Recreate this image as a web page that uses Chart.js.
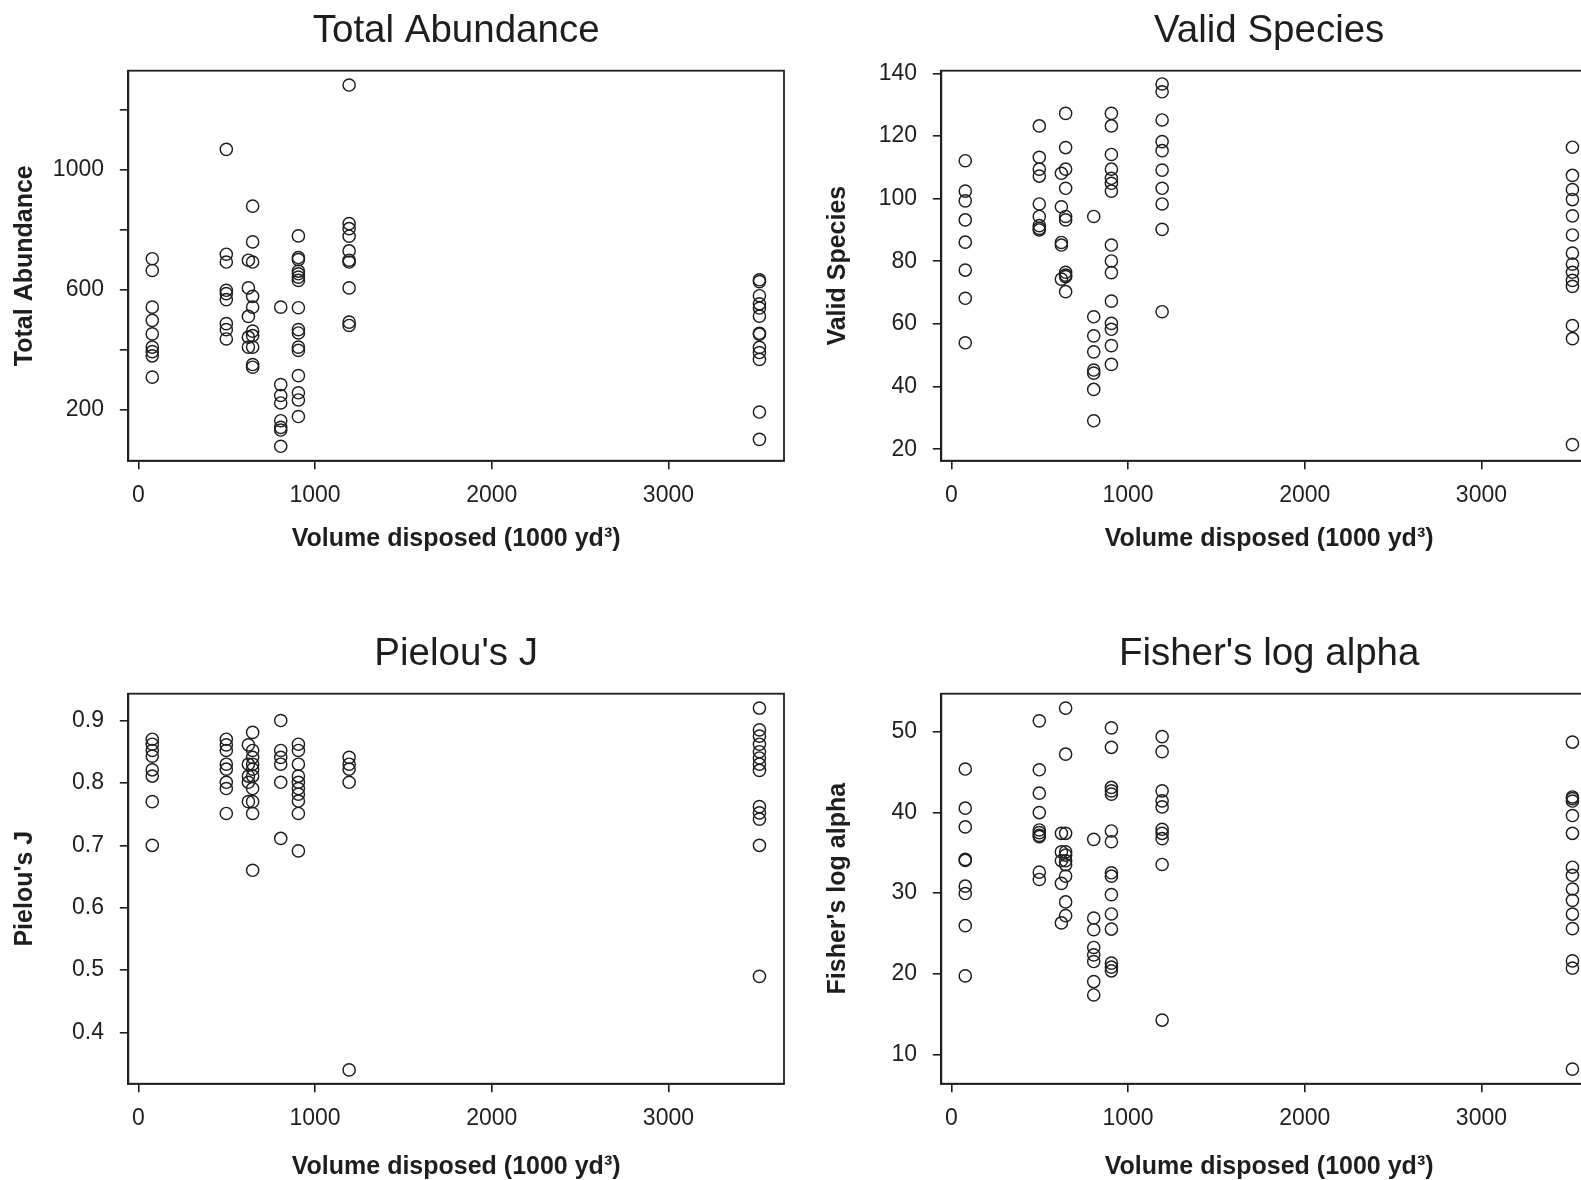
<!DOCTYPE html>
<html>
<head>
<meta charset="utf-8">
<script src="https://cdn.jsdelivr.net/npm/chart.js@4.4.1/dist/chart.umd.min.js"></script>
<style>
  html, body { margin: 0; padding: 0; background: #fff; overflow: hidden; width: 1581px; height: 1180px; position: relative; }
  .panel { position: absolute; width: 813px; height: 623px; }
</style>
</head>
<body>
<div class="panel" style="left:0;top:0"><canvas id="c1" width="813" height="623"></canvas></div>
<div class="panel" style="left:813px;top:0"><canvas id="c2" width="813" height="623"></canvas></div>
<div class="panel" style="left:0;top:623px"><canvas id="c3" width="813" height="623"></canvas></div>
<div class="panel" style="left:813px;top:623px"><canvas id="c4" width="813" height="623"></canvas></div>
<script>
// volume disposed at each station group (1000 yd3)
var siteVolume = [79, 498, 623, 647, 806, 906, 1193, 3515];
var volumeTicks = [0, 1000, 2000, 3000];

// one inner list per station group, same order as siteVolume
var totalAbundance = [
    [703, 664, 542, 498, 453, 409, 394, 380, 309],
    [1067, 718, 692, 598, 587, 567, 487, 467, 436],
    [698, 606, 511, 442, 409],
    [878, 759, 692, 578, 542, 462, 447, 409, 351, 342],
    [542, 284, 248, 223, 164, 142, 133, 79],
    [779, 707, 700, 662, 653, 642, 631, 540, 467, 456, 409, 398, 314, 257, 233, 178],
    [1281, 820, 803, 778, 729, 698, 692, 606, 492, 481],
    [633, 627, 580, 553, 539, 512, 455, 452, 408, 391, 368, 193, 102]
];
var abundanceTicks = [200, 400, 600, 800, 1000, 1200];
var abundanceLabels = ['200', '', '600', '', '1000', ''];

var validSpecies = [
    [112.1, 102.4, 99.3, 93.2, 86.1, 77.2, 68.2, 54.0],
    [123.2, 113.2, 109.4, 107.2, 98.3, 94.3, 91.4, 90.5, 90.0],
    [108.1, 97.4, 86.0, 85.2, 74.3],
    [127.2, 116.3, 109.4, 103.3, 94.3, 93.2, 76.5, 75.6, 75.1, 70.3],
    [94.3, 62.3, 56.2, 51.1, 45.3, 44.3, 39.1, 29.1],
    [127.2, 123.2, 114.1, 109.4, 106.5, 104.9, 102.4, 85.2, 80.1, 76.4, 67.3, 60.2, 58.3, 53.1, 47.1],
    [136.6, 134.1, 125.1, 118.2, 115.3, 109.1, 103.3, 98.3, 90.2, 63.9],
    [116.4, 107.4, 102.9, 99.7, 94.5, 88.4, 82.6, 79.1, 76.5, 73.9, 72.0, 59.5, 55.3, 21.5]
];
var speciesTicks = [20, 40, 60, 80, 100, 120, 140];
var speciesLabels = ['20', '40', '60', '80', '100', '120', '140'];

var pielouJ = [
    [0.870, 0.862, 0.852, 0.843, 0.821, 0.811, 0.770, 0.700],
    [0.870, 0.861, 0.852, 0.830, 0.822, 0.801, 0.791, 0.751],
    [0.861, 0.830, 0.811, 0.801, 0.770],
    [0.881, 0.852, 0.841, 0.830, 0.822, 0.811, 0.791, 0.770, 0.751, 0.660],
    [0.900, 0.852, 0.841, 0.830, 0.801, 0.711],
    [0.862, 0.852, 0.830, 0.811, 0.801, 0.791, 0.782, 0.771, 0.751, 0.691],
    [0.841, 0.830, 0.822, 0.801, 0.340],
    [0.920, 0.885, 0.875, 0.862, 0.850, 0.840, 0.830, 0.820, 0.762, 0.752, 0.742, 0.700, 0.490]
];
var pielouTicks = [0.4, 0.5, 0.6, 0.7, 0.8, 0.9];
var pielouLabels = ['0.4', '0.5', '0.6', '0.7', '0.8', '0.9'];

var fisherAlpha = [
    [45.36, 40.51, 38.19, 34.17, 34.04, 30.85, 29.94, 25.96, 19.74],
    [51.33, 45.27, 42.37, 39.97, 37.81, 37.48, 37.15, 36.98, 32.59, 31.68],
    [37.4, 35.1, 34.0, 31.2, 26.3],
    [52.9, 47.2, 37.4, 35.1, 34.7, 34.0, 33.5, 32.1, 28.9, 27.2],
    [36.65, 26.91, 25.46, 23.26, 22.35, 21.52, 19.04, 17.38],
    [50.46, 48.05, 43.08, 42.66, 42.25, 37.69, 36.36, 32.51, 32.09, 29.81, 27.41, 25.54, 21.32, 20.82, 20.37],
    [49.38, 47.51, 42.66, 41.42, 40.67, 37.90, 37.40, 36.74, 33.54, 14.27],
    [48.7, 41.9, 41.7, 41.4, 39.6, 37.4, 33.2, 32.2, 30.5, 29.1, 27.4, 25.6, 21.6, 20.7, 8.2]
];
var fisherTicks = [10, 20, 30, 40, 50];
var fisherLabels = ['10', '20', '30', '40', '50'];

var INK = '#1e1e1e';
var FONT = '"Liberation Sans", Arial, Helvetica, sans-serif';

var framePlugin = {
    id: 'frame',
    afterDatasetsDraw: function (chart) {
        var a = chart.chartArea, ctx = chart.ctx;
        ctx.save();
        ctx.strokeStyle = INK;
        ctx.lineWidth = 1.8;
        ctx.strokeRect(a.left, a.top, a.right - a.left, a.bottom - a.top);
        ctx.restore();
    }
};

function toPoints(groups) {
    var pts = [];
    groups.forEach(function (g, i) {
        g.forEach(function (v) { pts.push({ x: siteVolume[i], y: v }); });
    });
    return pts;
}

// xTitleGap: room under the x axis title, the lower row sits a bit lower
function drawPanel(id, title, groups, yMin, yMax, yTicks, yLabels, xTitleGap) {
    new Chart(document.getElementById(id), {
        type: 'scatter',
        data: {
            datasets: [{
                data: toPoints(groups),
                pointStyle: 'circle',
                pointRadius: 6.1,
                pointHoverRadius: 6.1,
                pointBorderWidth: 1.45,
                pointBorderColor: INK,
                pointBackgroundColor: 'rgba(0,0,0,0)'
            }]
        },
        options: {
            responsive: false,
            animation: false,
            events: [],
            layout: { padding: { left: 0, top: 0, right: 29, bottom: 0 } },
            plugins: {
                legend: { display: false },
                tooltip: { enabled: false },
                title: {
                    display: true,
                    text: title,
                    fullSize: false,
                    color: INK,
                    font: { family: FONT, size: 38.5, weight: 'normal', lineHeight: 1.2 },
                    padding: { top: 8.4, bottom: 16.1 }
                }
            },
            scales: {
                x: {
                    type: 'linear',
                    min: -56.6,
                    max: 3654,
                    afterBuildTicks: function (axis) {
                        axis.ticks = volumeTicks.map(function (v) { return { value: v }; });
                    },
                    afterFit: function (axis) { axis.height = 162.3; },
                    ticks: {
                        color: INK,
                        padding: 12.5,
                        maxRotation: 0,
                        autoSkip: false,
                        font: { family: FONT, size: 23 },
                        callback: function (v) { return String(v); }
                    },
                    grid: { drawOnChartArea: false, drawTicks: true, tickLength: 8.5, color: INK, lineWidth: 1.6 },
                    border: { display: true, color: INK, width: 1.8 },
                    title: {
                        display: true,
                        text: 'Volume disposed (1000 yd³)',
                        color: INK,
                        font: { family: FONT, size: 25, weight: 'bold', lineHeight: 1.2 },
                        padding: { top: 0, bottom: xTitleGap }
                    }
                },
                y: {
                    type: 'linear',
                    min: yMin,
                    max: yMax,
                    afterBuildTicks: function (axis) {
                        axis.ticks = yTicks.map(function (v) { return { value: v }; });
                    },
                    afterFit: function (axis) { axis.width = 128.3; },
                    ticks: {
                        color: INK,
                        padding: 15.8,
                        autoSkip: false,
                        font: { family: FONT, size: 23 },
                        callback: function (v, i) { return yLabels[i]; }
                    },
                    grid: { drawOnChartArea: false, drawTicks: true, tickLength: 8.5, color: INK, lineWidth: 1.6 },
                    border: { display: true, color: INK, width: 1.8 },
                    title: {
                        display: true,
                        text: title,
                        color: INK,
                        font: { family: FONT, size: 25, weight: 'bold', lineHeight: 1.2 },
                        padding: { top: 10.2, bottom: 0 }
                    }
                }
            }
        },
        plugins: [framePlugin]
    });
}

drawPanel('c1', 'Total Abundance', totalAbundance, 31, 1328.7, abundanceTicks, abundanceLabels, 68.4);
drawPanel('c2', 'Valid Species', validSpecies, 16.36, 140.83, speciesTicks, speciesLabels, 68.4);
drawPanel('c3', "Pielou's J", pielouJ, 0.3179, 0.943, pielouTicks, pielouLabels, 63.4);
drawPanel('c4', "Fisher's log alpha", fisherAlpha, 6.39, 54.69, fisherTicks, fisherLabels, 63.4);
</script>
</body>
</html>
